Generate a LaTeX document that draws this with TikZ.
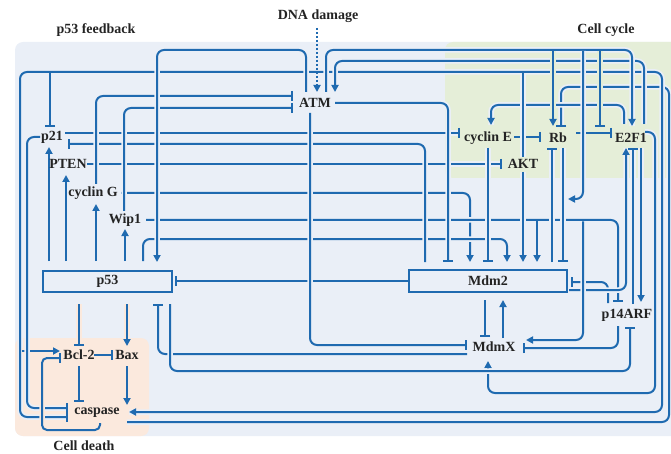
\documentclass[tikz,border=0pt]{standalone}
\usepackage{fontspec}
\setmainfont{Liberation Serif}
\usetikzlibrary{arrows.meta}
\definecolor{lc}{RGB}{31,106,176}
\definecolor{bgb}{RGB}{234,239,247}
\definecolor{bgg}{RGB}{229,238,216}
\definecolor{bgo}{RGB}{251,233,221}
\definecolor{txt}{RGB}{35,35,35}
\tikzset{
  lbl/.style={font=\bfseries\fontsize{14}{16}\selectfont, inner sep=0pt, text=txt},
  ln/.style={draw=lc, line width=2pt, rounded corners=7pt, preaction={draw=#1, line width=5.5pt, arrows=-}},
  ln/.default=bgb,
  ar/.style={-{Triangle[length=7pt,width=7pt]}},
  tb/.style={-{Bar[width=10pt]}},
  boxn/.style={draw=lc, line width=2pt},
}
\begin{document}
\begin{tikzpicture}[x=1pt,y=-1pt]
\useasboundingbox (0,0) rectangle (671,454);
\clip (0,0) rectangle (671,454);
% regions
\fill[bgb, rounded corners=8pt] (15,42) rectangle (700,436);
\fill[bgg, rounded corners=8pt] (445,42) rectangle (700,178);
\fill[bgo, rounded corners=8pt] (15,338) rectangle (149,436);

% outer loops
\draw[ln, tb] (127,422) -- (669,422) -- (669,87) -- (561,87) -- (561,127);
\draw[ln, arrows={Bar[width=10pt]-Triangle[length=7pt,width=7pt]}] (68,417) -- (20,417) -- (20,72) -- (662,72) -- (662,412) -- (129,412);
\draw[ln, ar] (645,132) -- (655,132) -- (655,393) -- (488,393) -- (488,361);
\draw[ln, tb] (467,354) -- (158,354) -- (158,304);
\draw[ln, tb] (170,304) -- (170,371) -- (630,371) -- (630,327);
\draw[ln, tb] (618,326) -- (618,348) -- (523,348);

% top lines
\draw[ln, ar] (624,124) -- (624,105) -- (491,105) -- (491,125);
\draw[ln, ar] (644,124) -- (644,61) -- (335,61) -- (335,92);
\draw[ln, ar] (326,92) -- (326,50) -- (632,50) -- (632,126);
\draw[ln=bgg, tb] (576,133) -- (612,133);
\draw[ln=bgg, tb] (514,137) -- (541,137);
\draw[ln=bgg, ar] (553,51) -- (553,126);
\draw[ln=bgg, tb] (600,51) -- (600,127);
\draw[ln, ar] (583,51) -- (583,199) -- (568,199);

% middle horizontals
\draw[ln, tb] (65,133) -- (460,133);
\draw[ln, tb] (87,164) -- (502,164);
\draw[ln, ar] (121,193) -- (470,193) -- (470,262);
\draw[ln, tb] (146,220) -- (618,220) -- (618,302);
\draw[ln, ar] (143,261) -- (143,239) -- (507,239) -- (507,262);
\draw[ln, tb] (408,281) -- (175,281);
\draw[ln, tb] (608,303) -- (608,282) -- (571,282);
\draw[ln, ar] (569,290) -- (626,290) -- (626,148);

% verticals
\draw[ln, tb] (425,262) -- (425,144) -- (68,144);
\draw[ln, tb] (96,184) -- (96,96) -- (293,96);
\draw[ln, tb] (124,211) -- (124,108) -- (293,108);
\draw[ln, ar] (306,92) -- (306,50) -- (157,50) -- (157,262);
\draw[ln, tb] (335,103) -- (448,103) -- (448,262);
\draw[ln, tb] (310,113) -- (310,345) -- (467,345);
\draw[ln, tb] (488,148) -- (488,262);
\draw[ln] (523,157) -- (523,73.5);
\draw[ln, ar] (523,172) -- (523,262);
\draw[ln, tb] (552,262) -- (552,148);
\draw[ln, tb] (563,148) -- (563,262);
\draw[ln, ar] (537,221.5) -- (537,262);
\draw[ln, ar] (583,221.5) -- (583,340) -- (526,340);
\draw[ln, tb] (633,304) -- (633,148);
\draw[ln, ar] (641,148) -- (641,302);
\draw[ln, tb] (485,300) -- (485,337);
\draw[ln, ar] (503,338) -- (503,300);

% p53 targets
\draw[ln, ar] (49,261) -- (49,147);
\draw[ln, ar] (66,261) -- (66,175);
\draw[ln, ar] (96,261) -- (96,204);
\draw[ln, ar] (125,261) -- (125,229);
\draw[ln, tb] (50,73.5) -- (50,127);

% cell death
\draw[ln=bgo, ar] (21.5,351) -- (60,351);
\draw[ln, tb] (40,137) -- (27,137) -- (27,408) -- (68,408);
\draw[ln=bgo, tb, rounded corners=5pt] (100,423) -- (100,430) -- (42,430) -- (42,358) -- (61,358);
\draw[ln=bgo, tb] (79,304) -- (79,346);
\draw[ln=bgo, ar] (127,304) -- (127,346);
\draw[ln=bgo, tb] (94,355) -- (113,355);
\draw[ln=bgo, tb] (79,366) -- (79,402);
\draw[ln=bgo, ar] (127,366) -- (127,405);

% DNA damage
\draw[lc, line width=2pt, dash pattern=on 2pt off 2pt, -{Triangle[length=7pt,width=7pt]}] (317,28) -- (317,92);

% nodes
\node[lbl] (dna) at (318,16) {DNA damage};
\node[lbl] (fb) at (96,30) {p53 feedback};
\node[lbl] (cc) at (606,30) {Cell cycle};
\node[lbl] (cd) at (84,446) {Cell death};
\node[lbl] (atm) at (315,103) {ATM};
\node[lbl] (p21) at (52,137) {p21};
\node[lbl] (pten) at (68,164) {PTEN};
\node[lbl] (cycg) at (93,193) {cyclin G};
\node[lbl] (wip1) at (125,220) {Wip1};
\node[boxn, lbl, minimum width=129pt, minimum height=21pt] (p53) at (107.5,281.5) {p53};
\node[boxn, lbl, minimum width=158pt, minimum height=22pt] (mdm2) at (488,281) {Mdm2};
\node[lbl] (mdmx) at (494,347) {MdmX};
\node[lbl] (arf) at (627,315) {p14ARF};
\node[lbl] (cyce) at (488,138) {cyclin E};
\node[lbl] (rb) at (558,138) {Rb};
\node[lbl] (e2f1) at (631,138) {E2F1};
\node[lbl] (akt) at (523,164) {AKT};
\node[lbl] (bcl2) at (79,355) {Bcl-2};
\node[lbl] (bax) at (127,355) {Bax};
\node[lbl] (casp) at (97,413) {caspase};
\end{tikzpicture}
\end{document}
